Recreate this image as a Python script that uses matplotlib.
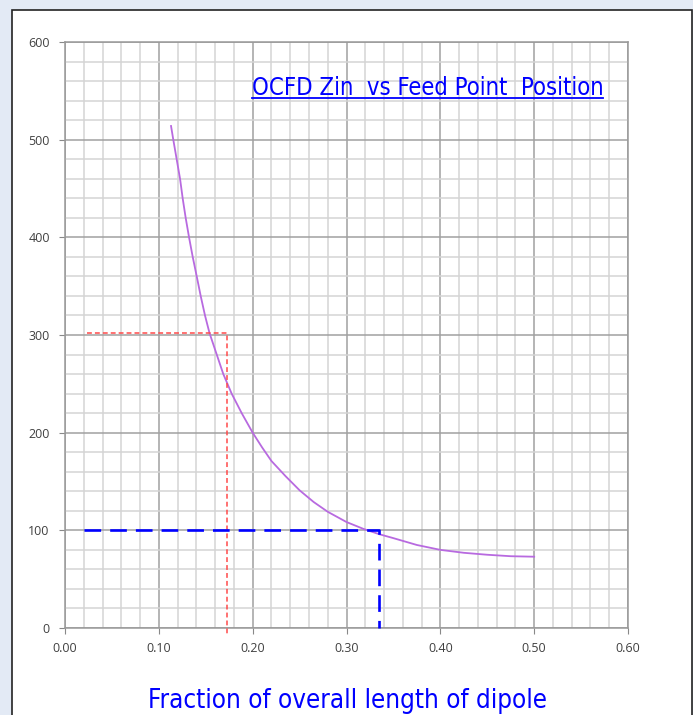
import matplotlib
matplotlib.use("Agg")
import matplotlib.pyplot as plt
from matplotlib import font_manager as fm
from matplotlib.patches import Rectangle
from matplotlib.lines import Line2D
from matplotlib.ticker import MultipleLocator

# feed point position (fraction of dipole length) vs input impedance (ohms)
feed_pos = [0.113, 0.1154, 0.119, 0.1226, 0.1254, 0.1286, 0.1322, 0.1361, 0.1404,
            0.1446, 0.1492, 0.154, 0.1617, 0.1687, 0.1776, 0.1883, 0.200, 0.210,
            0.220, 0.235, 0.250, 0.265, 0.280, 0.300, 0.318, 0.335, 0.350, 0.375,
            0.400, 0.425, 0.450, 0.475, 0.500]
zin = [514, 500, 480, 460, 440, 420, 400, 380, 360,
       340, 320, 302, 280, 260, 240, 220, 200, 185,
       171, 155.5, 141, 129, 119, 108.5, 101.5, 96, 92, 85,
       80, 77, 75, 73.5, 73]

# guide lines
red_x = [0.023, 0.1725, 0.1725]
red_y = [302, 302, -8]
blue_x = [0.02, 0.335, 0.335]
blue_y = [100, 100, 0]

x_ticks = [0.0, 0.1, 0.2, 0.3, 0.4, 0.5, 0.6]
y_ticks = [0, 100, 200, 300, 400, 500, 600]

title = "OCFD Zin  vs Feed Point  Position"
xlabel = "Fraction of overall length of dipole"

plt.rcParams["lines.scale_dashes"] = False


def narrow_font(size):
    # look for an installed narrow / condensed sans face
    cands = [f for f in fm.fontManager.ttflist
             if ("narrow" in f.name.lower() or "condensed" in str(f.stretch).lower()
                 or "condensed" in f.fname.lower())
             and "bold" not in f.fname.lower() and "oblique" not in f.fname.lower()
             and "italic" not in f.fname.lower()]
    cands.sort(key=lambda f: (0 if "Liberation" in f.name else 1 if "DejaVu" in f.name else 2))
    if cands:
        return fm.FontProperties(fname=cands[0].fname, size=size)
    return fm.FontProperties(family="DejaVu Sans", stretch="condensed", size=size)


fig = plt.figure(figsize=(6.93, 7.15), dpi=100)
fig.patch.set_facecolor("#e3eaf5")

# white panel with dark border
fig.add_artist(Rectangle((12 / 693, -0.05), 680 / 693, 1.05 - 10 / 715,
                         transform=fig.transFigure, facecolor="white",
                         edgecolor="#222222", linewidth=1.2, zorder=-5))

ax = fig.add_axes([65 / 693, 87 / 715, 563 / 693, 586 / 715])
ax.set_facecolor("none")
ax.set_xlim(0, 0.6)
ax.set_ylim(0, 600)
ax.set_xticks(x_ticks)
ax.set_yticks(y_ticks)
ax.set_xticklabels([f"{v:.2f}" for v in x_ticks])
ax.xaxis.set_minor_locator(MultipleLocator(0.02))
ax.yaxis.set_minor_locator(MultipleLocator(20))
ax.grid(which="major", color="#a0a0a0", linewidth=1.1)
ax.grid(which="minor", color="#d4d4d4", linewidth=1.1)
ax.set_axisbelow(True)
ax.tick_params(which="minor", length=0)
ax.tick_params(which="major", length=4, color="#888888", labelsize=9,
               labelcolor="#404040")
ax.tick_params(axis="x", pad=6)
ax.tick_params(axis="y", pad=7)
for lbl in ax.get_xticklabels() + ax.get_yticklabels():
    lbl.set_family(["Open Sans", "DejaVu Sans"])
for s in ax.spines.values():
    s.set_color("#999999")
    s.set_linewidth(1.1)

ax.plot(feed_pos, zin, color="#b86ae0", linewidth=1.3, zorder=3)
ax.plot(red_x, red_y, color="#ff4a4a", linewidth=1.1, dashes=(3.5, 2.2),
        clip_on=False, zorder=3)
ax.plot(blue_x, blue_y, color="#0000ff", linewidth=1.9, dashes=(12, 6.5),
        clip_on=False, zorder=4)

t = fig.text(427.5 / 693, 1 - 95 / 715, title, ha="center", va="baseline",
             color="#0000ff", fontproperties=narrow_font(17.1))
fig.text(348 / 693, 1 - 708 / 715, xlabel, ha="center", va="baseline",
         color="#0000ff", fontproperties=narrow_font(18.6))

# underline the title
fig.canvas.draw()
bb = t.get_window_extent().transformed(fig.transFigure.inverted())
uy = 1 - 98 / 715
fig.add_artist(Line2D([bb.x0, bb.x1], [uy, uy], transform=fig.transFigure,
                      color="#0000ff", linewidth=1.3))

fig.savefig("out.png", dpi=100, facecolor=fig.get_facecolor())
